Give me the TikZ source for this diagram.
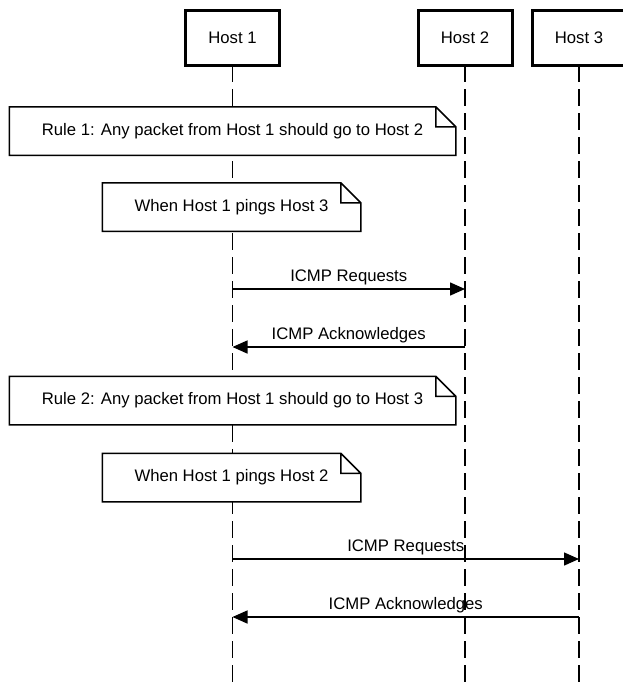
\documentclass[tikz,border=0pt]{standalone}
\usepackage{fontspec}
\setmainfont{Liberation Sans}
\usetikzlibrary{arrows.meta, positioning}
\tikzset{
  every picture/.style={font=\fontsize{16.7}{20}\selectfont, line width=1.5pt},
  host/.style={draw, line width=3pt, fill=white, minimum width=94pt, minimum height=55pt},
  lifeline/.style={dash pattern=on 17pt off 7pt, line width=1.5pt},
  msg/.style={-{Triangle[length=15pt, width=13pt]}, line width=1.5pt},
  note/.style={fill=white, minimum width=#1, minimum height=47pt, inner sep=0pt},
  noteline/.style={line width=1.5pt, line join=miter},
  label/.style={above, inner sep=3pt},
}

\begin{document}
\begin{tikzpicture}[x=1pt, y=-1pt]
  \useasboundingbox (0,0) rectangle (623,686);
  % hosts and their lifelines
  \foreach \i/\x in {1/232.5, 2/465, 3/579} {
    \coordinate (e\i) at (\x, 690);
    \draw[lifeline] (\x, 65) -- (e\i);
    \node[host] (h\i) at (\x, 37.5) {Host \i};
  }
  % notes
  \node[note=445pt] (rule1) at (232.5, 131) {Rule 1: Any packet from Host 1 should go to Host 2};
  \node[note=257pt] (ping1) at (231.5, 207) {When Host 1 pings Host 3};
  \node[note=445pt] (rule2) at (232.5, 400.5) {Rule 2: Any packet from Host 1 should go to Host 3};
  \node[note=257pt] (ping2) at (231.5, 477.5) {When Host 1 pings Host 2};
  \foreach \nb in {rule1, ping1, rule2, ping2}
    \draw[noteline] (\nb.south west) -- (\nb.north west)
      -- ([xshift=-20pt]\nb.north east) -- ([yshift=-20pt]\nb.north east)
      -- (\nb.south east) -- cycle
      ([xshift=-20pt]\nb.north east) |- ([yshift=-20pt]\nb.north east);
  % messages
  \foreach \n/\a/\b/\y in {1/1/2/289, 2/2/1/347, 3/1/3/559, 4/3/1/617} {
    \coordinate (m\n s) at (h\a |- 0,\y);
    \coordinate (m\n t) at (h\b |- 0,\y);
  }
  \draw[msg] (m1s) -- node[label] {ICMP Requests} (m1t);
  \draw[msg] (m2s) -- node[label] {ICMP Acknowledges} (m2t);
  \draw[msg] (m3s) -- node[label] {ICMP Requests} (m3t);
  \draw[msg] (m4s) -- node[label] {ICMP Acknowledges} (m4t);
\end{tikzpicture}
\end{document}
